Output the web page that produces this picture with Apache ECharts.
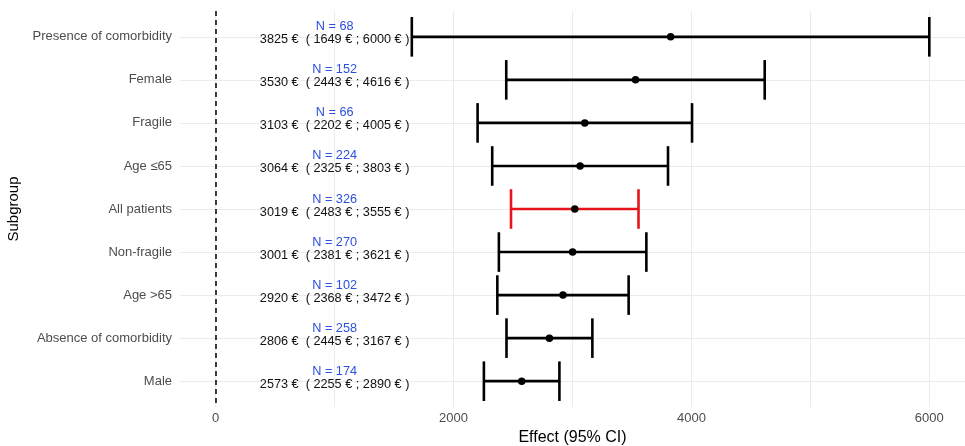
<!DOCTYPE html>
<html>
<head>
<meta charset="utf-8">
<script src="https://cdn.jsdelivr.net/npm/echarts@6/dist/echarts.min.js"></script>
<style>
  html, body { margin: 0; padding: 0; background: #fff; }
  #chart { width: 965px; height: 446px; }
</style>
</head>
<body>
<div id="chart"></div>
<script>
// 亚组（从上到下）
var subgroups = ['Presence of comorbidity', 'Female', 'Fragile', 'Age ≤65', 'All patients',
                 'Non-fragile', 'Age >65', 'Absence of comorbidity', 'Male'];
var estimate = [3825, 3530, 3103, 3064, 3019, 3001, 2920, 2806, 2573];
var lower = [1649, 2443, 2202, 2325, 2483, 2381, 2368, 2445, 2255];
var upper = [6000, 4616, 4005, 3803, 3555, 3621, 3472, 3167, 2890];
var counts = [68, 152, 66, 224, 326, 270, 102, 258, 174];
var highlight = 'All patients';
var labelX = 1000; // 文字标注所在的x值

var chart = echarts.init(document.getElementById('chart'));

var fontFamily = '"Liberation Sans", Arial, sans-serif';

var barData = subgroups.map(function (name, i) {
  return [lower[i], upper[i], i];
});
var pointData = subgroups.map(function (name, i) {
  return [estimate[i], i];
});
var textData = subgroups.map(function (name, i) {
  return [labelX, i, counts[i], estimate[i], lower[i], upper[i]];
});

chart.setOption({
  animation: false,
  grid: {
    left: 180,
    right: 0,
    top: 11,
    bottom: 39,
    outerBoundsMode: 'none'
  },
  xAxis: {
    type: 'value',
    min: -300,
    max: 6300,
    name: 'Effect (95% CI)',
    nameLocation: 'middle',
    nameGap: 20,
    nameTextStyle: { color: '#000', fontSize: 16, fontFamily: fontFamily },
    axisLine: { show: false },
    axisTick: { show: false },
    axisLabel: {
      color: '#4d4d4d',
      fontSize: 13,
      fontFamily: fontFamily,
      margin: 5,
      formatter: function (v) {
        return (v >= 0 && v % 2000 === 0) ? String(v) : '';
      }
    },
    splitLine: {
      show: true,
      showMinLine: false,
      showMaxLine: false,
      lineStyle: { color: '#ebebeb', width: 1 }
    }
  },
  yAxis: {
    // 用数值轴模拟离散轴（两端各留0.6）
    type: 'value',
    min: -0.6,
    max: subgroups.length - 1 + 0.6,
    minInterval: 1,
    maxInterval: 1,
    inverse: true,
    name: 'Subgroup',
    nameLocation: 'middle',
    nameGap: 149,
    nameRotate: 90,
    nameTextStyle: { color: '#000', fontSize: 15, fontFamily: fontFamily },
    axisLine: { show: false },
    axisTick: { show: false },
    axisLabel: {
      color: '#4d4d4d',
      fontSize: 13,
      fontFamily: fontFamily,
      margin: 8,
      formatter: function (v) {
        return (Math.abs(v - Math.round(v)) < 1e-6 && subgroups[Math.round(v)]) ? subgroups[Math.round(v)] : '';
      }
    },
    splitLine: {
      show: true,
      showMinLine: false,
      showMaxLine: false,
      lineStyle: { color: '#ebebeb', width: 1 }
    }
  },
  series: [
    {
      // 文字标注
      type: 'custom',
      z: 2,
      silent: true,
      data: textData,
      encode: { x: 0, y: 1 },
      renderItem: function (params, api) {
        var p = api.coord([api.value(0), api.value(1)]);
        var n = api.value(2), e = api.value(3), lo = api.value(4), hi = api.value(5);
        return {
          type: 'group',
          children: [
            {
              type: 'text',
              x: p[0], y: p[1] - 10,
              style: {
                text: 'N = ' + n,
                fill: '#2b4fe0',
                font: '12.7px ' + fontFamily,
                textAlign: 'center',
                textVerticalAlign: 'middle'
              }
            },
            {
              type: 'text',
              x: p[0], y: p[1] + 3,
              style: {
                text: e + ' €  ( ' + lo + ' € ; ' + hi + ' € )',
                fill: '#111',
                font: '12.7px ' + fontFamily,
                textAlign: 'center',
                textVerticalAlign: 'middle'
              }
            }
          ]
        };
      }
    },
    {
      // 置信区间
      type: 'custom',
      z: 3,
      data: barData,
      encode: { x: [0, 1], y: 2 },
      renderItem: function (params, api) {
        var cat = api.value(2);
        var a = api.coord([api.value(0), cat]);
        var b = api.coord([api.value(1), cat]);
        var half = api.size([0, 1])[1] * 0.46;
        var color = subgroups[cat] === highlight ? '#e8141c' : '#000';
        var st = { stroke: color, lineWidth: 2.6 };
        return {
          type: 'group',
          children: [
            { type: 'line', shape: { x1: a[0], y1: a[1], x2: b[0], y2: b[1] }, style: st },
            { type: 'line', shape: { x1: a[0], y1: a[1] - half, x2: a[0], y2: a[1] + half }, style: st },
            { type: 'line', shape: { x1: b[0], y1: b[1] - half, x2: b[0], y2: b[1] + half }, style: st }
          ]
        };
      }
    },
    {
      // 点估计
      type: 'scatter',
      z: 4,
      symbolSize: 7.5,
      itemStyle: { color: '#000', opacity: 1 },
      data: pointData,
      markLine: {
        silent: true,
        symbol: 'none',
        label: { show: false },
        lineStyle: { color: '#000', type: [5, 4], width: 1.5 },
        data: [{ xAxis: 0 }]
      }
    }
  ]
});
</script>
</body>
</html>
